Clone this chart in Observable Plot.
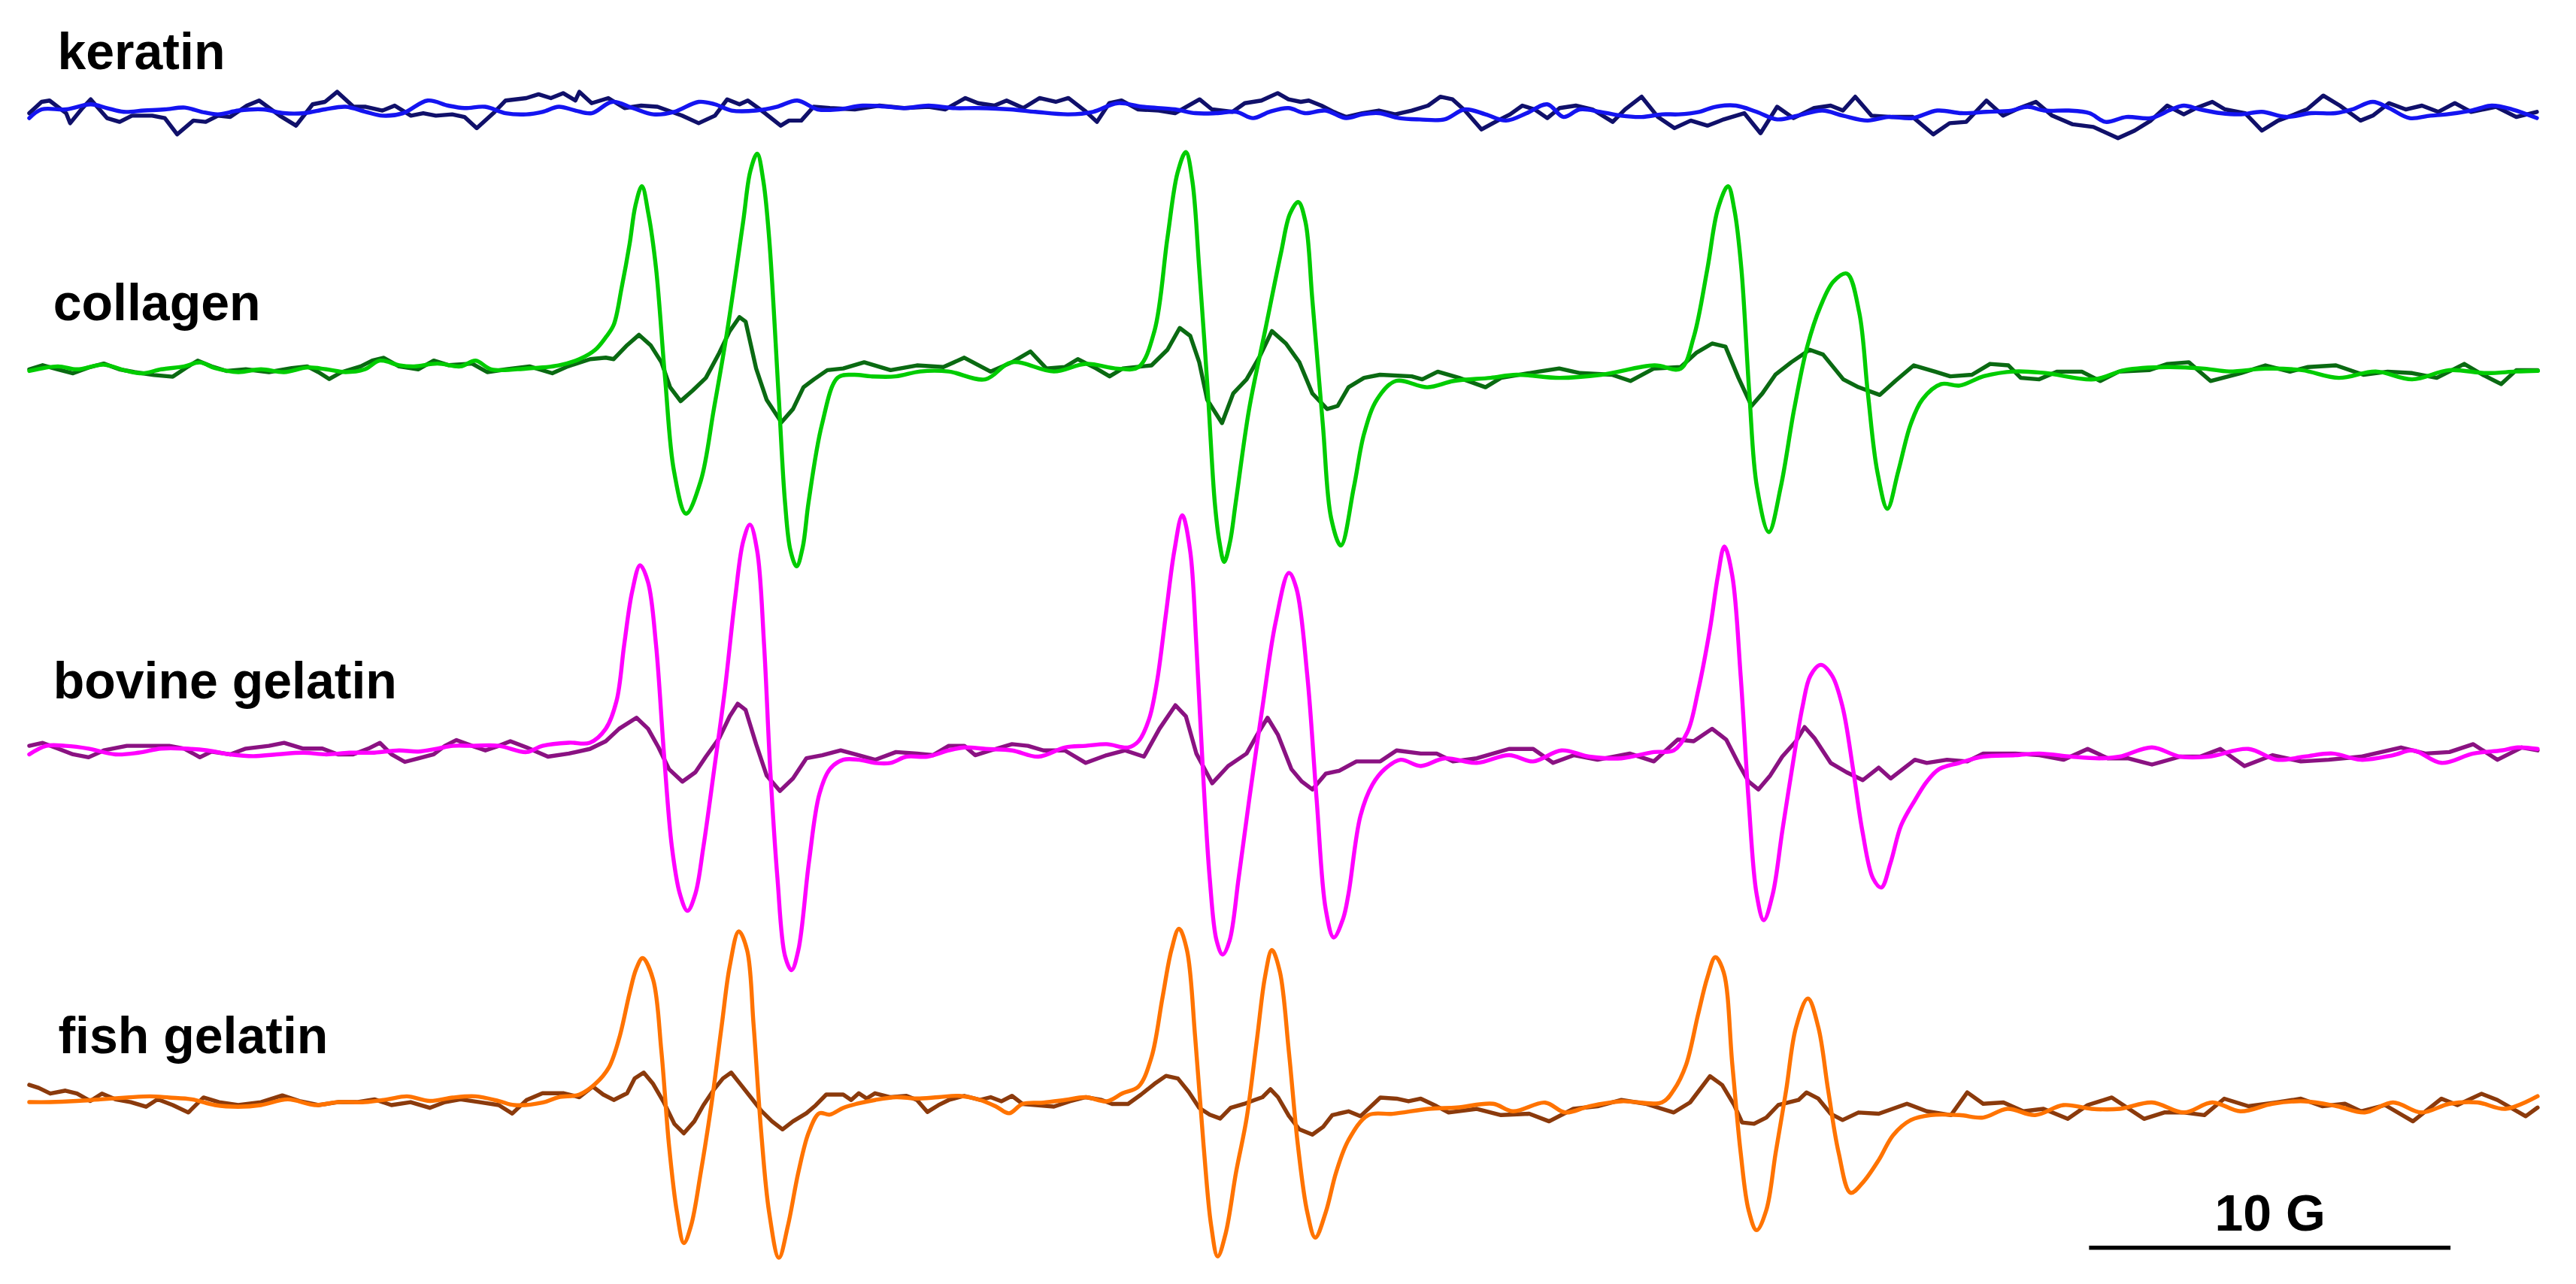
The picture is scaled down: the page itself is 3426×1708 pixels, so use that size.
<!DOCTYPE html>
<html>
<head>
<meta charset="utf-8">
<script src="https://cdn.jsdelivr.net/npm/d3@7"></script>
<script src="https://cdn.jsdelivr.net/npm/@observablehq/plot@0.6"></script>
<style>
html, body { margin: 0; padding: 0; background: #ffffff; }
#chart svg { display: block; }
</style>
</head>
<body>
<div id="chart"></div>
<script>
// ---- Sample names, vertical stacking offsets (a.u.), colours ----
const samples = ["keratin", "collagen", "bovine gelatin", "fish gelatin"];
const stackOffset = [0, -158, -390, -602];
const brightColors = ["#1414f0", "#00cc00", "#ff00ff", "#ff7300"];
const darkColors = ["#10106a", "#0a6a12", "#8a1282", "#8b3a0c"];
const labelLift = [25, 30, 32, 28];
const labelField = [1.58, 1.46, 1.46, 1.60];

// ---- Spectra: [field (G), signal (a.u.)] ----
const keratinBright = [[0.80,-4.7],[1.14,0.6],[1.82,0.6],[2.50,3.7],[2.95,1.4],[3.41,-0.9],[3.98,-0.1],[4.55,0.6],[5.11,1.7],[5.57,-0.9],[6.02,-2.4],[6.59,-0.1],[7.27,0.6],[7.84,-1.7],[8.41,-1.7],[8.98,0.6],[9.55,2.2],[10.11,-0.9],[10.57,-3.2],[11.14,-1.7],[11.82,6],[12.39,2.9],[12.84,1.4],[13.41,2.2],[13.98,-1.7],[14.55,-2.4],[15.00,-0.9],[15.45,2.2],[15.91,-0.1],[16.36,-1.7],[16.93,5.2],[17.50,1.4],[18.07,-2.4],[18.64,-0.9],[19.32,5.2],[19.77,3.7],[20.23,-0.1],[20.91,-0.1],[21.48,2.2],[22.05,6],[22.61,0.6],[23.18,0.6],[23.86,2.9],[24.55,2.2],[25.00,1.4],[25.68,2.9],[26.36,1.4],[27.05,1.4],[27.95,0.6],[28.64,-0.9],[29.55,-2.4],[30.23,-0.9],[30.91,4.4],[31.59,2.2],[32.50,0.6],[33.07,-1.7],[33.64,-1.7],[34.20,-0.9],[34.66,-4.7],[35.11,-0.9],[35.64,1.4],[36.09,-1.7],[36.66,-0.1],[37.23,-4.7],[37.68,-2.4],[38.14,-1.7],[38.70,-4.7],[39.27,-5.5],[39.95,-5.5],[40.52,0.6],[41.09,-2.4],[41.66,-6.2],[42.23,-1.7],[42.80,3.7],[43.25,-4],[43.70,0.6],[44.27,-0.9],[44.84,-3.2],[45.41,-4],[45.98,-2.4],[46.43,-2.4],[47.00,-0.9],[47.45,2.2],[48.02,2.9],[48.59,-0.9],[49.16,-5.5],[49.73,-3.2],[50.41,-0.1],[50.98,-3.2],[51.66,-6.2],[52.23,-4],[52.91,-4.7],[53.59,-0.1],[54.27,-1.7],[54.95,-0.9],[55.64,-0.1],[56.09,2.2],[56.55,-0.1],[57.23,-0.1],[57.80,-1.7],[58.25,-7],[58.82,-4],[59.50,-4.7],[60.07,0.6],[60.41,2.9],[60.86,0.6],[61.43,-1.7],[62.00,-2.4],[62.57,-0.9],[63.25,-4],[63.93,-1.7],[64.61,-1.7],[65.07,0.6],[65.64,5.2],[66.09,1.4],[66.66,-4.7],[67.23,-3.2],[67.68,-2.4],[68.36,-0.1],[68.93,2.9],[69.50,0.6],[70.18,-4.7]];

const keratinDark = [[0.80,-1.7],[1.14,5.2],[1.36,6],[1.82,-1.7],[1.93,-7.8],[2.27,1.4],[2.50,6.7],[2.95,-4.7],[3.30,-7],[3.64,-3.2],[4.20,-3.2],[4.55,-4.7],[4.89,-14.6],[5.34,-6.2],[5.68,-7],[6.02,-3.2],[6.36,-4],[6.82,2.9],[7.16,6],[7.73,-3.2],[8.18,-9.3],[8.64,3.7],[8.98,5.2],[9.32,11.3],[9.77,2.2],[10.11,2.2],[10.57,-0.1],[10.91,2.9],[11.36,-3.2],[11.70,-1.7],[12.05,-3.2],[12.50,-2.4],[12.84,-4],[13.18,-10.8],[13.64,-1.7],[13.98,6],[14.55,7.5],[14.89,9.8],[15.23,7.5],[15.57,10.5],[15.91,6],[16.02,11.3],[16.36,4.4],[16.82,7.5],[17.27,1.4],[17.73,2.9],[18.18,2.2],[18.86,-3.2],[19.32,-7.8],[19.77,-3.2],[20.11,6.7],[20.45,3.7],[20.68,6],[21.02,0.6],[21.59,-9.3],[21.82,-6.2],[22.16,-6.2],[22.50,2.2],[22.95,1.4],[23.64,0.6],[24.32,2.9],[25.00,1.4],[25.68,2.2],[26.14,0.6],[26.70,7.5],[27.05,4.4],[27.50,2.9],[27.84,6],[28.30,1.4],[28.75,7.5],[29.20,5.2],[29.55,7.5],[30.00,-0.1],[30.34,-7],[30.68,4.4],[31.02,6],[31.48,0.6],[32.05,-0.1],[32.50,-1.7],[33.18,6.7],[33.52,0.6],[34.09,-0.9],[34.43,4.4],[34.89,6],[35.34,10.5],[35.64,6.7],[35.98,5.2],[36.20,6],[36.55,2.9],[36.89,-0.9],[37.23,-4],[37.68,-1.7],[38.14,-0.1],[38.59,-2.4],[39.05,-0.1],[39.50,2.9],[39.84,8.3],[40.18,6.7],[40.52,-0.1],[40.98,-11.6],[41.43,-6.2],[41.77,-2.4],[42.11,2.9],[42.45,0.6],[42.80,-4.7],[43.14,1.4],[43.59,2.9],[44.05,0.6],[44.61,-7],[44.95,0.6],[45.41,8.3],[45.86,-4],[46.32,-10.8],[46.77,-6.2],[47.23,-9.3],[47.68,-5.5],[48.25,-1.7],[48.70,-13.9],[49.16,2.2],[49.61,-4.7],[50.18,1.4],[50.64,2.9],[50.98,-0.1],[51.32,8.3],[51.77,-3.2],[52.34,-4],[52.91,-4],[53.48,-14.6],[53.93,-7.8],[54.39,-7],[54.95,6],[55.41,-3.2],[55.86,1.4],[56.32,5.2],[56.77,-3.2],[57.34,-8.5],[57.91,-10.1],[58.59,-16.9],[59.05,-12.3],[59.50,-6.2],[59.95,2.9],[60.41,-2.4],[60.75,1.4],[61.20,5.2],[61.55,0.6],[62.11,-1.7],[62.57,-12.3],[63.02,-6.2],[63.48,-2.4],[63.82,0.6],[64.27,9],[64.73,2.9],[65.30,-6.2],[65.64,-3.2],[66.09,4.4],[66.55,0.6],[67.00,2.9],[67.45,-0.9],[67.91,4.4],[68.36,-0.9],[69.05,2.2],[69.61,-4],[70.18,-0.9]];

const collagenBright = [[0.80,-0.7],[1.59,2.1],[2.12,0.3],[2.86,3.1],[3.50,-0.7],[3.93,-2.1],[4.45,0.3],[5.09,2.1],[5.52,4.5],[5.94,1],[6.58,-1.4],[7.21,0.3],[7.85,-1.4],[8.49,1.4],[9.02,0.3],[9.55,-1.4],[10.08,0.3],[10.50,5.6],[11.03,2.8],[11.45,2.1],[12.09,3.8],[12.73,2.1],[13.15,5.6],[13.58,0.3],[14.56,0.8],[15.44,2.7],[16.02,6.5],[16.46,12.2],[16.75,19.8],[16.97,27.4],[17.19,50.1],[17.41,76.7],[17.57,100],[17.75,111.8],[17.93,95],[18.14,62],[18.39,-4.8],[18.64,-62],[18.97,-87.6],[19.38,-67.5],[19.74,-24],[20.11,23.6],[20.55,90],[20.75,121],[20.94,131.6],[21.11,115],[21.27,80.3],[21.53,-14.4],[21.71,-80.8],[21.86,-110],[22.03,-119.7],[22.20,-108],[22.36,-80.8],[22.73,-33.4],[23.17,-4.7],[23.61,-3],[24.09,-4],[24.77,-4],[25.45,-1],[26.23,-1],[27.25,-5.8],[27.98,4.6],[29.15,-1],[30.03,3.6],[30.91,0.7],[31.49,1.7],[31.93,23.6],[32.29,80.3],[32.57,120],[32.80,132.6],[32.98,115],[33.17,61.6],[33.41,-14.4],[33.60,-80.8],[33.73,-105],[33.86,-117],[34.02,-105],[34.18,-80.8],[34.55,-24],[34.99,23.6],[35.43,71],[35.68,95],[35.91,102.2],[36.11,90],[36.30,42.5],[36.59,-33.4],[36.82,-90.4],[37.09,-107],[37.45,-71.3],[37.73,-39],[38.09,-18],[38.61,-6.8],[39.48,-10.6],[40.21,-6.8],[41.23,-4.9],[41.95,-3],[43.14,-4.9],[44.30,-3],[45.76,2.7],[46.49,0.7],[46.85,19.8],[47.23,61.6],[47.52,98],[47.80,111.8],[47.98,97],[48.17,61.6],[48.39,-14.4],[48.60,-71.3],[48.93,-98.8],[49.26,-71.3],[49.63,-24],[49.99,14],[50.36,38.7],[50.72,53.8],[51.09,58.6],[51.43,35],[51.67,-14.4],[51.93,-61.8],[52.21,-84.6],[52.51,-61.8],[52.85,-33.4],[53.18,-18],[53.70,-8.7],[54.21,-9.6],[54.88,-3.9],[55.73,-1],[56.58,-2],[57.93,-5.8],[58.77,-0.2],[59.95,1.7],[60.98,0.7],[61.66,-1],[62.67,0.7],[63.68,-0.2],[64.70,-4.9],[65.72,-1],[66.73,-5.8],[67.75,-0.2],[68.77,-2],[69.61,-1],[70.21,-0.6]];

const collagenDark = [[0.80,0.3],[1.17,2.8],[1.59,0.3],[2.01,-2.1],[2.44,1.4],[2.86,3.8],[3.29,0.3],[3.71,-1.4],[4.25,-3.2],[4.77,-4.2],[5.20,2.1],[5.46,5.6],[5.84,2.1],[6.26,-0.7],[6.79,0.3],[7.43,-1.4],[8.06,1],[8.49,2.1],[8.80,-1.4],[9.10,-5.6],[9.44,-1.4],[9.97,2.1],[10.29,5.6],[10.61,7.3],[11.03,2.1],[11.56,0.3],[11.99,5.6],[12.41,2.8],[13.05,3.8],[13.47,-1.4],[14.00,0.3],[14.64,2.1],[15.27,-2.1],[15.70,2.1],[16.32,6.5],[16.75,7.4],[16.97,6.5],[17.34,15],[17.67,21.3],[17.99,15],[18.29,4.6],[18.53,-10.6],[18.82,-19.1],[19.16,-12.5],[19.52,-4.9],[19.89,10.3],[20.18,23.6],[20.45,32.1],[20.62,29.3],[20.91,0.8],[21.20,-18.2],[21.61,-32],[21.93,-23.9],[22.22,-10.6],[22.51,-5.8],[22.88,-0.2],[23.32,0.8],[23.90,4.6],[24.63,-0.2],[25.36,2.7],[26.09,1.7],[26.67,7.4],[27.40,-1.1],[27.99,4.6],[28.50,11.2],[28.94,0.8],[29.45,1.7],[29.81,6.5],[30.32,0.8],[30.69,-4],[31.05,0.8],[31.85,2.7],[32.29,12.2],[32.63,25.5],[32.92,20.7],[33.17,4.6],[33.39,-18.2],[33.80,-32.4],[34.11,-14.4],[34.48,-5.8],[34.85,8.4],[35.18,23.6],[35.57,16],[35.94,4.6],[36.30,-14.4],[36.71,-23.9],[37.00,-22],[37.30,-10.6],[37.73,-4.9],[38.17,-3],[39.05,-4],[39.34,-5.8],[39.77,-1.1],[40.36,-4.9],[41.09,-10.6],[41.52,-4.9],[42.55,-1.1],[43.13,0.8],[43.71,-2],[44.59,-3],[45.10,-6.8],[45.75,0.8],[46.49,1.7],[46.92,10.3],[47.36,16],[47.73,14.1],[48.09,-4.9],[48.45,-22],[48.75,-14.4],[49.11,-3],[49.55,4.6],[50.06,12.2],[50.43,9.3],[50.99,-5.8],[51.41,-10.6],[52.00,-15.3],[52.43,-6.8],[52.94,2.7],[53.53,-1.1],[53.95,-4],[54.55,-3],[55.05,3.6],[55.56,2.7],[55.90,-4.9],[56.41,-5.8],[56.91,-1.1],[57.59,-1.1],[58.10,-6.8],[58.61,-1.1],[59.45,-0.2],[59.96,3.6],[60.55,4.6],[61.15,-6.8],[61.99,-2],[62.67,2.7],[63.35,-1.1],[63.85,1.7],[64.62,2.7],[65.38,-3],[66.05,-1.1],[66.73,-2],[67.41,-4.9],[68.17,3.6],[68.68,-3],[69.19,-8.7],[69.61,-0.2],[70.20,-0.2]];

const bovineBright = [[0.80,-2.2],[1.27,3],[1.80,3],[2.44,1.3],[3.18,-2.2],[3.82,-1.2],[4.45,1.3],[5.09,1.3],[5.73,0.2],[6.36,-2.2],[7.00,-3.3],[7.64,-2.2],[8.38,-1.2],[9.02,-2.2],[9.65,-1.2],[10.29,-1.2],[11.03,0.2],[11.56,-0.5],[12.09,1.3],[12.52,3],[13.05,3],[13.79,3],[14.56,-0.8],[15.00,3],[15.73,4.9],[16.31,4.9],[16.75,13.4],[17.05,30.5],[17.26,64.6],[17.48,96.9],[17.70,113],[17.92,102.6],[18.14,64.6],[18.36,-1.7],[18.58,-58.7],[18.80,-87.1],[19.01,-97.5],[19.23,-87.1],[19.45,-58.7],[19.75,-11.2],[20.04,36.2],[20.33,93.1],[20.55,127.3],[20.74,137.7],[20.94,121.6],[21.13,64.6],[21.30,-11.2],[21.50,-77.6],[21.71,-125],[21.89,-133.6],[22.08,-121.2],[22.37,-68.1],[22.66,-26.4],[22.95,-11.2],[23.32,-5.5],[23.75,-5.5],[24.20,-7.4],[24.63,-7.4],[25.07,-3.6],[25.65,-3.6],[26.24,0.2],[26.67,2],[27.26,1.1],[27.99,0.2],[28.72,-3.6],[29.45,2],[30.03,3],[30.61,4],[31.20,2],[31.49,5.8],[31.78,19.1],[32.00,41.9],[32.25,83.6],[32.48,121.6],[32.70,143.4],[32.92,121.6],[33.09,64.6],[33.27,-11.2],[33.46,-77.6],[33.65,-115.6],[33.82,-124.1],[34.01,-115.6],[34.26,-77.6],[34.55,-30.2],[34.92,26.7],[35.28,77.9],[35.65,108.3],[35.86,98.8],[36.16,45.7],[36.42,-30.2],[36.67,-96.6],[36.89,-113.7],[37.15,-102.3],[37.30,-87.1],[37.63,-39.7],[37.96,-20.7],[38.30,-11.2],[38.74,-5.5],[39.30,-9.3],[39.96,-4.6],[40.85,-7.4],[41.74,-2.7],[42.41,-6.5],[43.19,0.2],[43.96,-3.6],[44.85,-4.6],[45.75,-0.8],[46.30,0.2],[46.68,11.5],[46.97,36.2],[47.30,74.1],[47.52,106.4],[47.70,124.4],[47.92,106.4],[48.15,45.7],[48.37,-30.2],[48.59,-87.1],[48.79,-103.2],[49.04,-87.1],[49.30,-49.2],[49.57,-11.2],[49.86,26.7],[50.08,45.7],[50.37,52.3],[50.68,45.7],[50.97,26.7],[51.26,-11.2],[51.52,-49.2],[51.81,-77.6],[52.04,-83.3],[52.30,-68.1],[52.59,-45.4],[52.97,-30.2],[53.30,-18.8],[53.64,-11.2],[54.20,-7.4],[54.86,-3.6],[55.75,-2.7],[56.42,-1.7],[57.30,-3.6],[58.09,-4.6],[58.64,-3.6],[59.53,2],[60.31,-3.6],[61.09,-3.6],[62.20,1.1],[62.98,-5.5],[63.75,-3.6],[64.53,-1.7],[65.31,-5.5],[66.20,-2.7],[66.76,0.2],[67.54,-7.4],[68.42,-1.7],[69.20,0.2],[69.65,2],[70.20,1.1]];

const bovineDark = [[0.80,3],[1.17,4.8],[1.59,1.3],[2.01,-2.2],[2.44,-4],[2.86,0.2],[3.50,3],[4.14,3],[4.67,3],[5.09,1.3],[5.52,-4],[5.84,-0.5],[6.36,-2.2],[6.79,1.3],[7.43,3],[7.85,4.8],[8.38,1.3],[8.91,1.3],[9.34,-2.2],[9.76,-2.2],[10.18,1.3],[10.50,4.8],[10.82,-2.2],[11.19,-6.8],[11.56,-4.7],[11.99,-2.2],[12.30,3],[12.62,6.5],[13.05,3],[13.42,0.2],[13.79,3],[14.11,5.8],[14.56,2],[15.15,-3.6],[15.73,-1.7],[16.31,1.1],[16.75,5.8],[17.12,13.4],[17.60,20.1],[17.92,13.4],[18.21,2],[18.50,-11.2],[18.87,-18.8],[19.23,-13.1],[19.52,-3.6],[19.89,7.7],[20.18,21],[20.40,28.6],[20.62,24.8],[20.91,4],[21.20,-15],[21.57,-24.5],[21.93,-16.9],[22.30,-4.6],[22.74,-2.7],[23.25,0.2],[23.75,-2.7],[24.20,-5.5],[24.78,-0.8],[25.36,-1.7],[25.80,-2.7],[26.24,3],[26.67,3],[26.97,-2.7],[27.40,0.2],[27.99,4],[28.43,3],[28.86,0.2],[29.45,0.2],[30.03,-7.4],[30.61,-2.7],[31.12,0.2],[31.64,-3.6],[32.07,13.4],[32.51,27.7],[32.80,21],[33.09,-1.7],[33.53,-19.8],[33.97,-9.3],[34.48,-1.7],[34.77,9.6],[35.06,20.1],[35.35,9.6],[35.72,-11.2],[36.01,-18.8],[36.30,-23.6],[36.67,-14],[37.04,-12.2],[37.52,-6.5],[38.18,-6.5],[38.63,0.2],[39.30,-1.7],[39.74,-1.7],[40.19,-6.5],[40.85,-4.6],[41.74,1.1],[42.41,1.1],[42.96,-7.4],[43.54,-2.7],[44.19,-5.5],[45.08,-1.7],[45.75,-6.5],[46.41,6.8],[46.85,5.8],[47.36,13.4],[47.75,6.8],[48.08,-7.4],[48.37,-18.8],[48.64,-23.6],[48.97,-15],[49.30,-3.6],[49.68,5.8],[49.92,14.4],[50.19,7.7],[50.64,-7.4],[51.08,-13.1],[51.53,-17.9],[51.97,-10.3],[52.30,-16.9],[52.97,-5.5],[53.30,-7.4],[53.86,-5.5],[54.42,-6.5],[54.86,-1.7],[55.75,-1.7],[56.42,-2.7],[57.08,-5.5],[57.75,1.1],[58.31,-4.6],[58.86,-4.6],[59.53,-8.4],[60.31,-3.6],[60.86,-3.6],[61.42,1.1],[62.09,-9.3],[62.87,-2.7],[63.65,-6.5],[64.42,-5.5],[65.31,-3.6],[66.42,2],[67.09,-1.7],[67.76,-0.8],[68.42,4],[69.09,-5.5],[69.76,2],[70.20,0.2]];

const fishBright = [[0.80,-2],[1.38,-2],[2.12,-1.3],[2.76,-0.3],[3.50,0.8],[4.14,1.5],[4.67,0.8],[5.30,-0.3],[5.94,-3.8],[6.58,-4.8],[7.21,-3.8],[7.95,-0.3],[8.70,-3.8],[9.34,-2],[10.08,-2],[10.71,-0.3],[11.25,1.5],[11.88,-1.3],[12.52,0.8],[13.15,1.5],[13.79,-1.3],[14.22,-3.8],[15.00,-2.3],[15.44,1],[16.02,2.6],[16.46,9.1],[16.83,18.9],[17.12,36.8],[17.41,64.5],[17.59,79],[17.77,85.7],[18.06,72.7],[18.29,28.7],[18.50,-28.3],[18.72,-69.1],[18.91,-87.8],[19.11,-77.2],[19.38,-44.6],[19.67,-3.9],[19.96,45],[20.18,80.8],[20.43,102],[20.66,90.6],[20.84,45],[21.05,-20.2],[21.27,-69.1],[21.54,-96.8],[21.79,-77.2],[22.08,-44.6],[22.37,-20.2],[22.66,-8.8],[22.95,-9.6],[23.32,-5.5],[23.68,-3.1],[24.20,-0.7],[24.78,1],[25.36,0.2],[25.95,1],[26.53,1.8],[27.11,-0.7],[27.55,-4.7],[27.91,-8.8],[28.28,-3.1],[28.86,-2.3],[29.45,-0.7],[30.03,1],[30.61,-1.5],[31.05,3.4],[31.49,7.5],[31.85,25.4],[32.15,61.2],[32.40,90.6],[32.61,103.6],[32.83,90.6],[33.06,36.8],[33.29,-28.3],[33.50,-77.2],[33.68,-96],[33.90,-82.1],[34.19,-44.6],[34.48,-12],[34.77,36.8],[34.99,74.3],[35.18,90.6],[35.40,77.5],[35.65,28.7],[35.90,-28.3],[36.16,-69.1],[36.38,-84.5],[36.67,-69.1],[36.96,-44.6],[37.30,-25.1],[37.85,-9.9],[38.52,-9.1],[39.52,-6.1],[40.30,-5.3],[41.30,-3],[41.85,-7.6],[42.74,-2.3],[43.30,-8.3],[43.96,-4.5],[44.85,-1.5],[45.97,-2.2],[46.30,5.4],[46.64,20.7],[46.97,51.2],[47.23,74],[47.45,86.3],[47.68,77.1],[47.92,20.7],[48.15,-32.7],[48.37,-67.8],[48.59,-80],[48.86,-67.8],[49.12,-32.7],[49.41,5.4],[49.68,43.5],[50.01,61.1],[50.30,43.5],[50.57,5.4],[50.86,-32.7],[51.19,-57.2],[51.53,-51],[51.97,-37.3],[52.37,-22.1],[52.86,-12.9],[53.41,-9.9],[54.20,-9.9],[54.86,-11.4],[55.53,-6.1],[56.30,-9.9],[57.08,-3.8],[57.86,-6.1],[58.64,-6.1],[59.53,-2.2],[60.42,-8.3],[61.20,-2.2],[61.98,-7.6],[62.86,-3],[63.75,-1.5],[64.65,-4.5],[65.42,-8.3],[66.20,-2.2],[66.98,-8.3],[67.76,-3],[68.54,-2.2],[69.31,-6.1],[70.20,1.6]];

const fishDark = [[0.80,8.5],[1.06,6.7],[1.38,3.2],[1.80,5],[2.12,3.2],[2.49,-1.3],[2.81,3.2],[3.18,-0.3],[3.61,-2],[4.03,-4.8],[4.35,-0.3],[4.77,-3.8],[5.20,-8.3],[5.62,0.8],[6.05,-2],[6.58,-3.8],[7.21,-2],[7.80,2.1],[8.27,-1.3],[8.80,-3.8],[9.34,-2],[9.86,-2],[10.35,-0.3],[10.82,-3.8],[11.35,-2],[11.88,-5.5],[12.30,-2],[12.73,-0.3],[13.26,-2],[13.79,-3.8],[14.16,-9],[14.56,-0.7],[15.00,3.4],[15.59,3.4],[16.02,1],[16.39,7.5],[16.68,2.6],[16.97,-0.7],[17.34,3.4],[17.55,12.4],[17.80,16],[18.06,9.1],[18.36,-2.3],[18.65,-15.3],[18.91,-21],[19.20,-13.7],[19.45,-3.9],[19.75,5.9],[19.99,12.4],[20.22,16],[20.47,9.1],[20.76,1],[21.05,-7.2],[21.35,-13.7],[21.64,-18.6],[21.93,-13.7],[22.30,-8.8],[22.56,-3.9],[22.85,2.6],[23.32,2.6],[23.54,-0.7],[23.75,3.4],[23.97,0.2],[24.20,3.4],[24.63,1],[25.07,1.8],[25.36,-0.7],[25.65,-8],[25.95,-3.9],[26.24,-0.7],[26.67,1.8],[27.11,-0.7],[27.40,1],[27.70,-1.5],[27.99,1.8],[28.28,-3.1],[28.72,-3.9],[29.15,-4.7],[29.59,-1.5],[30.03,1],[30.47,-0.7],[30.76,-3.1],[31.20,-3.1],[31.56,2.6],[31.93,9.1],[32.25,14],[32.58,12.4],[32.88,4.2],[33.17,-5.5],[33.46,-9.6],[33.75,-12],[34.04,-5.5],[34.41,-3.1],[34.70,-0.7],[34.92,1],[35.14,5.9],[35.35,1],[35.65,-10.4],[35.94,-18.6],[36.30,-21.8],[36.60,-17],[36.85,-9.9],[37.30,-7.6],[37.63,-10.6],[38.18,0.8],[38.63,0.1],[38.96,-1.5],[39.30,0.1],[39.74,-4.5],[40.07,-8.3],[40.85,-6.1],[41.52,-9.9],[42.30,-9.1],[42.85,-13.7],[43.52,-6.1],[44.19,-4.5],[44.85,-0.7],[45.52,-3],[46.30,-8.3],[46.75,-2.2],[47.30,13.8],[47.64,8.4],[47.97,-3.8],[48.19,-14.4],[48.52,-15.2],[48.86,-11.4],[49.19,-3.8],[49.75,-0.7],[49.97,3.9],[50.30,0.1],[50.64,-9.1],[50.97,-12.9],[51.41,-8.3],[51.97,-9.1],[52.75,-3],[53.30,-7.6],[53.97,-9.9],[54.42,3.9],[54.86,-3],[55.42,-2.2],[55.97,-7.6],[56.53,-6.1],[57.20,-12.2],[57.75,-3.8],[58.42,0.8],[59.31,-12.2],[59.87,-8.3],[60.42,-8.3],[60.98,-9.9],[61.53,0.1],[62.20,-4.5],[62.98,-2.2],[63.65,0.1],[64.24,-4.5],[64.87,-3],[65.31,-7.6],[65.98,-3.8],[66.75,-13.7],[67.54,0.1],[67.98,-3.8],[68.65,3.1],[69.09,-0.7],[69.87,-10.6],[70.20,-5.3]];

const brightSpectra = [keratinBright, collagenBright, bovineBright, fishBright];
const darkSpectra = [keratinDark, collagenDark, bovineDark, fishDark];

// Scale bar: 10 G
const scaleBar = [{from: 57.8, to: 67.8, y: -692.7, textY: -682.2, label: "10 G"}];

// ---- Build tables ----
function toRows(arr, i) {
  return arr.map(([field, signal]) => ({field, value: signal + stackOffset[i]}));
}
const labels = samples.map((name, i) => ({name, field: labelField[i], value: stackOffset[i] + labelLift[i]}));

const fontFamily = "'Liberation Sans', Arial, Helvetica, sans-serif";
const marks = [];
samples.forEach((s, i) => {
  marks.push(Plot.line(toRows(darkSpectra[i], i), {
    x: "field", y: "value", stroke: darkColors[i], strokeWidth: 5.4,
    strokeLinejoin: "round", strokeLinecap: "round", curve: "linear"
  }));
  marks.push(Plot.line(toRows(brightSpectra[i], i), {
    x: "field", y: "value", stroke: brightColors[i], strokeWidth: 5.4,
    strokeLinejoin: "round", strokeLinecap: "round", curve: "catmull-rom"
  }));
});
marks.push(Plot.text(labels, {
  x: "field", y: "value", text: "name", textAnchor: "start", lineAnchor: "bottom",
  fontSize: 68, fontWeight: "bold", fontFamily, fill: "#000"
}));
marks.push(Plot.ruleY(scaleBar, {y: "y", x1: "from", x2: "to", stroke: "#000", strokeWidth: 5.5}));
marks.push(Plot.text(scaleBar, {
  x: d => (d.from + d.to) / 2, y: "textY", text: "label", textAnchor: "middle", lineAnchor: "bottom",
  fontSize: 68, fontWeight: "bold", fontFamily, fill: "#000"
}));

const chart = Plot.plot({
  width: 3426,
  height: 1708,
  margin: 0,
  x: {domain: [0, 1568 / 22], axis: null},
  y: {domain: [-715, 67], axis: null},
  style: {background: "#ffffff", overflow: "visible"},
  marks
});
document.getElementById("chart").appendChild(chart);
</script>
</body>
</html>
